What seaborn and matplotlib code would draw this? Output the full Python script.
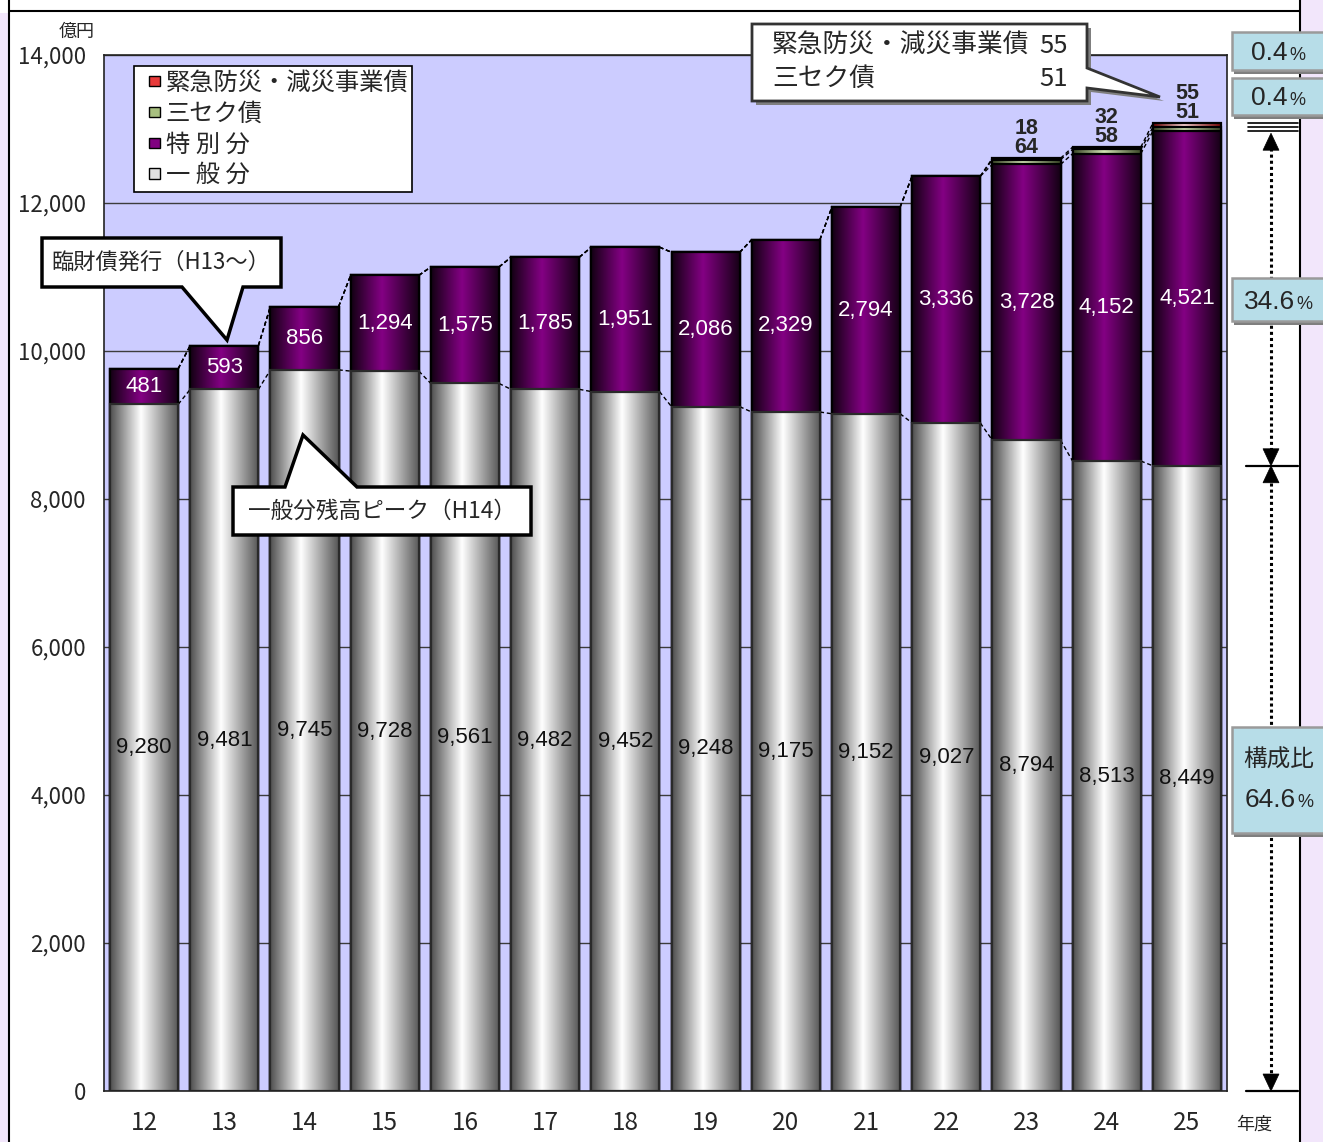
import numpy as np
import matplotlib
matplotlib.use('Agg')
import matplotlib.pyplot as plt
import seaborn as sns
from matplotlib.colors import LinearSegmentedColormap
from matplotlib.patches import Patch, Polygon, Rectangle
from matplotlib.legend_handler import HandlerPatch

# values in 億円, fiscal years H12-H25
years = ['12', '13', '14', '15', '16', '17', '18', '19', '20', '21', '22', '23', '24', '25']
general = [9280, 9481, 9745, 9728, 9561, 9482, 9452, 9248, 9175, 9152, 9027, 8794, 8513, 8449]
special = [481, 593, 856, 1294, 1575, 1785, 1951, 2086, 2329, 2794, 3336, 3728, 4152, 4521]
sansec = [0, 0, 0, 0, 0, 0, 0, 0, 0, 0, 0, 64, 58, 51]
emergency = [0, 0, 0, 0, 0, 0, 0, 0, 0, 0, 0, 18, 32, 55]
legend_labels = ['緊急防災・減災事業債', '三セク債', '特 別 分', '一 般 分']
share_pct = ['0.4', '0.4', '34.6', '64.6']

sns.set_style('white')
plt.rcParams['font.family'] = ['Noto Sans CJK JP', 'DejaVu Sans']
NUM_FONT = ['Liberation Sans', 'DejaVu Sans']

W, H = 1323, 1142
fig = plt.figure(figsize=(W / 100, H / 100), dpi=100)
ax = fig.add_axes([104 / W, 1 - 1091 / H, (1227 - 104) / W, (1091 - 55) / H])
ax.set_facecolor('#ccccff')

gen = np.array(general)
lv_sp = gen + np.array(special)
lv_sc = lv_sp + np.array(sansec)
lv_em = lv_sc + np.array(emergency)

bar_w = 0.85
grad = np.linspace(0, 1, 256).reshape(1, -1)

# (cumulative height, gradient stops, edge colour) drawn back to front
layers = [
    (lv_em, ['#6a0000', '#ffd8d8', '#7a0000'], 'black'),
    (lv_sc, ['#3a4626', '#d2e4b4', '#3a4626'], 'black'),
    (lv_sp, ['#120012', '#840084', '#120012'], 'black'),
    (gen, ['#4e4e4e', '#ffffff', '#555555'], '#2a2a2a'),
]

for k, (vals, stops, ec) in enumerate(layers):
    cmap = LinearSegmentedColormap.from_list('cyl%d' % k, list(zip([0, 0.45, 1], stops)))
    z = 2 + k * 0.1
    n0 = len(ax.patches)
    sns.barplot(x=years, y=vals, order=years, color=stops[1], width=bar_w,
                saturation=1, edgecolor=ec, linewidth=1.6, errorbar=None, ax=ax)
    for p in ax.patches[n0:]:
        x0, w, h = p.get_x(), p.get_width(), p.get_height()
        im = ax.imshow(grad, cmap=cmap, extent=[x0, x0 + w, 0, h], aspect='auto',
                       origin='lower', zorder=z, interpolation='bicubic')
        im.set_clip_path(p)
        p.set_facecolor('none')
        p.set_zorder(z + 0.05)

# series lines between the bars
for lv in [gen, lv_sp, lv_sc, lv_em]:
    for i in range(len(years) - 1):
        ax.plot([i + bar_w / 2, i + 1 - bar_w / 2], [lv[i], lv[i + 1]],
                color='black', lw=1, ls=(0, (3, 2)), zorder=1.9)

# value labels
for i in range(len(years)):
    ax.text(i, gen[i] / 2, f'{general[i]:,}', ha='center', va='center',
            fontsize=16, color='#111111', family=NUM_FONT, zorder=6)
    ax.text(i, gen[i] + special[i] / 2, f'{special[i]:,}', ha='center', va='center',
            fontsize=16, color='white', family=NUM_FONT, zorder=6)
    if sansec[i] > 0:
        ax.annotate(str(sansec[i]), (i, lv_em[i]), xytext=(0, 7.5), textcoords='offset points',
                    ha='center', va='center', fontsize=15.5, fontweight='bold',
                    family=NUM_FONT, zorder=6)
        ax.annotate(str(emergency[i]), (i, lv_em[i]), xytext=(0, 21.5), textcoords='offset points',
                    ha='center', va='center', fontsize=15.5, fontweight='bold',
                    family=NUM_FONT, zorder=6)

ax.set_xlim(-0.5, len(years) - 0.5)
ax.set_ylim(0, 14000)
ax.set_axisbelow(True)
ax.yaxis.grid(True, color='#3c3c3c', lw=1)
ax.xaxis.grid(False)
yt = list(range(0, 14001, 2000))
ax.set_yticks(yt)
ax.set_yticklabels([f'{v:,}' for v in yt])
ax.tick_params(axis='y', length=0, pad=13, labelsize=16)
ax.tick_params(axis='x', which='major', length=0, pad=14, labelsize=17.5)
ax.set_xticks(np.arange(0.5, len(years) - 1, 1), minor=True)
ax.tick_params(axis='x', which='minor', direction='in', length=6, color='#333333', width=1)
ax.set_xlabel('')
ax.set_ylabel('')
for s in ax.spines.values():
    s.set_visible(True)
    s.set_color('#222222')
    s.set_linewidth(1.2)


def small_square(legend, orig_handle, xdescent, ydescent, width, height, fontsize):
    s = 7.5
    return Rectangle((width - s - xdescent, (height - s) / 2 - ydescent), s, s)


handles = [Patch(facecolor=c, edgecolor='black', lw=1)
           for c in ['#e83a3a', '#a8c080', '#800080', '#e0e0e0']]
leg = ax.legend(handles, legend_labels, loc='upper left', bbox_to_anchor=(134 / W, 1 - 66 / H),
                bbox_transform=fig.transFigure, borderaxespad=0, prop={'size': 17.5},
                handlelength=0.9, handleheight=0.6, handletextpad=0.25, labelspacing=0.2,
                borderpad=0.15, frameon=True, fancybox=False, framealpha=1,
                handler_map={Patch: HandlerPatch(patch_func=small_square)})
leg.get_frame().set_edgecolor('black')
leg.get_frame().set_linewidth(1.2)
leg.set_zorder(10)

# overlay in pixel coordinates for frame, callouts and the share panel
fx = fig.add_axes([0, 0, 1, 1], zorder=5)
fx.set_xlim(0, W)
fx.set_ylim(H, 0)
fx.axis('off')
fx.patch.set_alpha(0)


def ypix(v):
    return H - ax.transData.transform((0, v))[1]


fx.add_patch(Rectangle((0, 13), 8, H, fc='#f2e6fb', ec='none'))
fx.add_patch(Rectangle((1301, 0), 30, H, fc='#f2e6fb', ec='none'))
fx.plot([9, 9], [0, H], color='black', lw=1.5)
fx.plot([1300, 1300], [0, H], color='black', lw=1.5)
fx.plot([9, 1300], [11, 11], color='black', lw=1.5)

fx.text(77, 32, '億円', ha='center', va='center', fontsize=13)
fx.text(1254, 1125, '年度', ha='center', va='center', fontsize=13)

# callouts
fx.add_patch(Polygon([(42, 238), (281, 238), (281, 287), (243, 287), (227, 340), (182, 287), (42, 287)],
                     closed=True, fc='white', ec='black', lw=2.5, zorder=8))
fx.text(161, 262, '臨財債発行（H13～）', ha='center', va='center', fontsize=16, zorder=9)

fx.add_patch(Polygon([(233, 487), (285, 487), (303, 435), (357, 487), (531, 487), (531, 535), (233, 535)],
                     closed=True, fc='white', ec='black', lw=2.5, zorder=8))
fx.text(382, 511, '一般分残高ピーク（H14）', ha='center', va='center', fontsize=16.3, zorder=9)

c3 = [(752, 24), (1087, 24), (1087, 68), (1160, 97), (1087, 88), (1087, 101), (752, 101)]
fx.add_patch(Polygon([(x + 4, y + 4) for x, y in c3], closed=True, fc='#7f7f7f', ec='none', zorder=7.5))
fx.add_patch(Polygon(c3, closed=True, fc='white', ec='#333333', lw=2, zorder=8))
fx.text(772, 46, legend_labels[0], ha='left', va='center', fontsize=18.5, zorder=9)
fx.text(1068, 46, str(emergency[-1]), ha='right', va='center', fontsize=18.5, zorder=9)
fx.text(772, 79, legend_labels[1], ha='left', va='center', fontsize=18.5, zorder=9)
fx.text(1068, 79, str(sansec[-1]), ha='right', va='center', fontsize=18.5, zorder=9)

# share panel: brackets and arrows
xa = 1271
ytop = ypix(lv_sp[-1])
ymid = ypix(gen[-1])
ybot = ypix(0)
for v in [lv_sp[-1], lv_sc[-1], lv_em[-1]]:
    fx.plot([1248, 1298], [ypix(v)] * 2, color='black', lw=1.2)
for y in [ymid, ybot]:
    fx.plot([1246, 1298], [y, y], color='black', lw=1.6)
dot = dict(color='black', lw=2.2, ls=(0, (1, 1)), dash_capstyle='butt', zorder=3)
fx.plot([xa, xa], [ytop + 17, ymid - 17], **dot)
fx.plot([xa, xa], [ymid + 17, ybot - 17], **dot)
for tip, d in [(ytop + 2, 1), (ymid, -1), (ymid, 1), (ybot, -1)]:
    fx.add_patch(Polygon([(xa, tip), (xa - 8, tip + d * 17), (xa + 8, tip + d * 17)],
                         closed=True, fc='black', ec='black', lw=0.5, zorder=3))


def share_box(y0, y1, num, xr, yc, head=None):
    fx.add_patch(Rectangle((1234, y0 + 4), 92, y1 - y0, fc='#7f7f7f', ec='none', zorder=6))
    fx.add_patch(Rectangle((1232, y0), 92, y1 - y0, fc='#b7dde8', ec='#9a9a9a', lw=1.8, zorder=6.5))
    if head:
        fx.text(1243, yc - 38, head, ha='left', va='center', fontsize=17, zorder=7)
    fx.text(xr, yc + 9, num, ha='right', va='baseline', fontsize=19, family=NUM_FONT, zorder=7)
    fx.text(xr + 1, yc + 9, '%', ha='left', va='baseline', fontsize=13, family=NUM_FONT, zorder=7)


share_box(32, 70, share_pct[0], 1288, 51)
share_box(78, 115, share_pct[1], 1288, 96)
share_box(278, 321, share_pct[2], 1295, 300)
share_box(727, 833, share_pct[3], 1296, 798, head='構成比')

fig.savefig('out.png', dpi=100)
